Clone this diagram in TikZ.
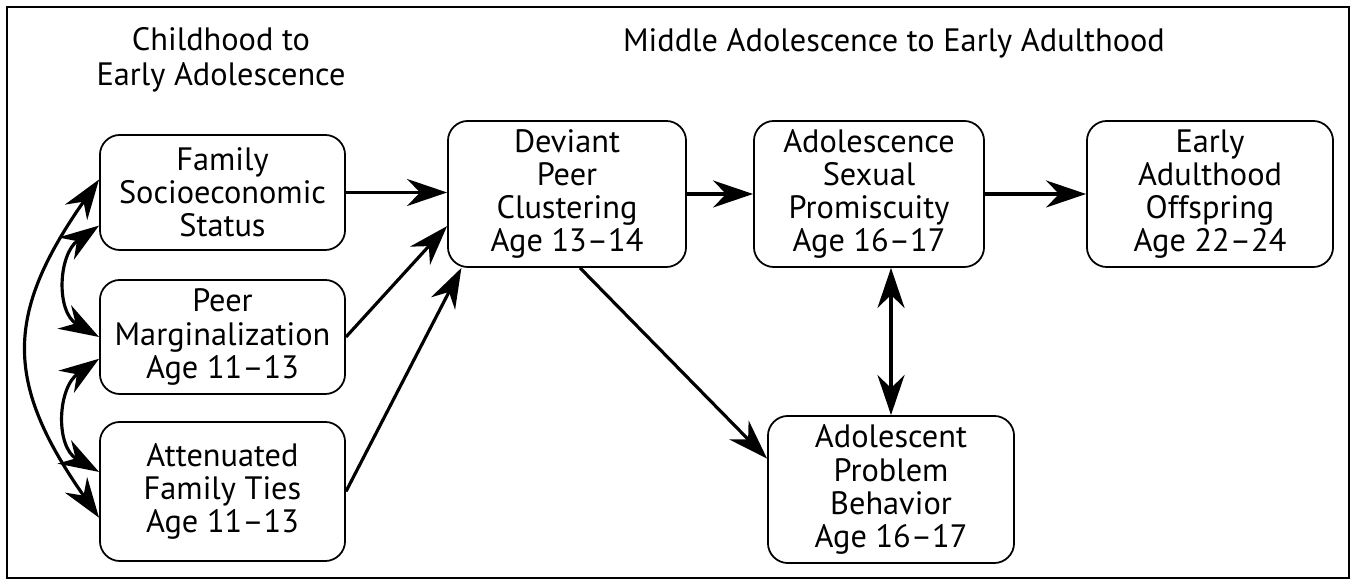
\documentclass[tikz,border=0pt]{standalone}
\usepackage{fontspec}
\setmainfont{PT Sans}
\usetikzlibrary{arrows.meta}

\begin{document}
\begin{tikzpicture}[x=0.01cm,y=-0.01cm,
        box/.style={draw,line width=0.5pt,rounded corners=0.2cm,align=center,inner sep=0pt,font=\fontsize{9.2}{9.4}\selectfont},
        head/.style={align=center,font=\fontsize{9.2}{9.8}\selectfont},
        link/.style={line width=0.9pt,-{Stealth[length=4mm,width=2.7mm,inset=1.3mm]}},
        both/.style={line width=0.9pt,{Stealth[length=4mm,width=2.7mm,inset=1.3mm]}-{Stealth[length=4mm,width=2.7mm,inset=1.3mm]}}]
        \useasboundingbox (0,0) rectangle (1355,580);
        \draw[line width=0.6pt] (7,7) rectangle (1349,578);
        \node[head] (early) at (221,60) {Childhood to\\Early Adolescence};
        \node[head] (late) at (894,43) {Middle Adolescence to Early Adulthood};
        \node[box,minimum width=2.45cm,minimum height=1.15cm] (fses) at (222.5,192.5) {Family\\Socioeconomic\\Status};
        \node[box,minimum width=2.45cm,minimum height=1.14cm] (pm) at (222.5,337) {Peer\\Marginalization\\Age 11--13};
        \node[box,minimum width=2.45cm,minimum height=1.39cm] (aft) at (222.5,491.5) {Attenuated\\Family Ties\\Age 11--13};
        \node[box,minimum width=2.38cm,minimum height=1.46cm] (dpc) at (567,194) {Deviant\\Peer\\Clustering\\Age 13--14};
        \node[box,minimum width=2.30cm,minimum height=1.46cm] (asp) at (869,194) {Adolescence\\Sexual\\Promiscuity\\Age 16--17};
        \node[box,minimum width=2.46cm,minimum height=1.46cm] (eao) at (1210,194) {Early\\Adulthood\\Offspring\\Age 22--24};
        \node[box,minimum width=2.46cm,minimum height=1.47cm] (apb) at (891,489.5) {Adolescent\\Problem\\Behavior\\Age 16--17};
        \draw[both] (fses.195) to[out=215,in=150,looseness=1.15] (pm.180);
        \draw[both] (pm.190) to[out=215,in=150,looseness=1.15] (aft.171);
        \draw[both] (fses.174) to[out=235,in=125,looseness=1.25] (aft.192);
        \draw[link] (fses.east) -- (fses.east -| dpc.west);
        \draw[link] (pm.east) -- (dpc.195);
        \draw[link] (aft.east) -- (dpc.215);
        \draw[link] (dpc.east) -- (asp.west);
        \draw[link] (asp.east) -- (eao.west);
        \draw[link] (dpc.-80) -- (apb.166);
        \draw[both] (apb.north) -- (apb.north |- asp.south);
\end{tikzpicture}
\end{document}
